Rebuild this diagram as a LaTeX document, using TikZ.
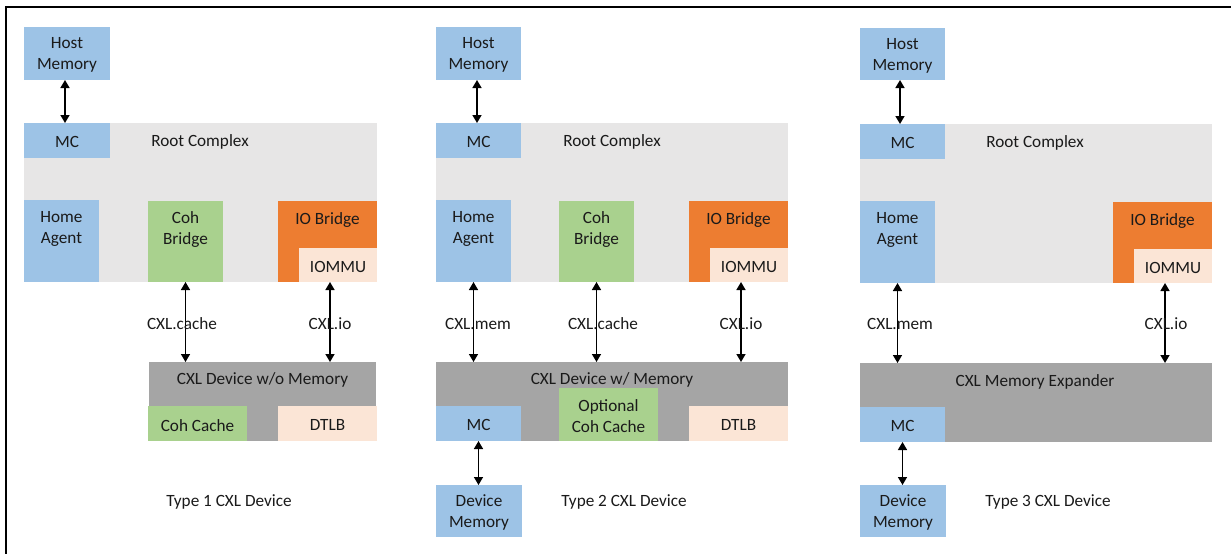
\documentclass[tikz,border=0pt]{standalone}
\usepackage{fontspec}
\setmainfont{Carlito}
\usetikzlibrary{arrows.meta,calc}
\definecolor{blueC}{HTML}{9DC3E6}
\definecolor{greenC}{HTML}{A9D18E}
\definecolor{orangeC}{HTML}{ED7D31}
\definecolor{peachC}{HTML}{FBE5D6}
\definecolor{lgrayC}{HTML}{E7E6E6}
\definecolor{dgrayC}{HTML}{A5A5A5}
\definecolor{txtC}{HTML}{1A1A1A}
\tikzset{
  blk/.style={anchor=north west, inner sep=0pt, outer sep=0pt, draw=none},
  txt/.style={inner sep=0pt, outer sep=0pt, align=center, yshift=-1.8pt,
              font=\fontsize{17.2}{21}\selectfont, text=txtC},
  link/.style={line width=1.5pt, {Triangle[width=9pt,length=8pt]}-{Triangle[width=9pt,length=8pt]}},
  frame/.style={line width=2.2pt}
}
\begin{document}
\begin{tikzpicture}[x=1pt,y=-1pt]
\useasboundingbox (0,0) rectangle (1231,554);
\draw[frame] (1231,7) -- (6,7) -- (6,554);

% ---------------- Panel 1 ----------------
\node[blk, fill=blueC, minimum width=86pt, minimum height=53pt] (hm1) at (24,27) {};
\node[txt] (hmt1) at (hm1) {Host\\Memory};
\node[blk, fill=lgrayC, minimum width=353pt, minimum height=159pt] (rc1) at (24,123) {};
\node[blk, fill=blueC, minimum width=86pt, minimum height=35pt] (mc1) at (24,123) {};
\node[txt] (mct1) at (mc1) {MC};
\node[txt] (rct1) at (200,140) {Root Complex};
\node[blk, fill=blueC, minimum width=75pt, minimum height=82pt] (ha1) at (24,200) {};
\node[txt] (hat1) at (61.5,227) {Home\\Agent};
\node[blk, fill=greenC, minimum width=75pt, minimum height=81pt] (cb1) at (148,201) {};
\node[txt] (cbt1) at (185.5,228) {Coh\\Bridge};
\node[blk, fill=orangeC, minimum width=99pt, minimum height=81pt] (iob1) at (278,201) {};
\node[txt] (iobt1) at (327.5,218) {IO Bridge};
\node[blk, fill=peachC, minimum width=78pt, minimum height=34pt] (iommu1) at (299,248) {};
\node[txt] (iommut1) at (iommu1) {IOMMU};
\node[blk, fill=dgrayC, minimum width=227pt, minimum height=79pt] (dev1) at (149,362) {};
\node[txt] (devt1) at (262.5,378) {CXL Device w/o Memory};
\node[blk, fill=greenC, minimum width=99pt, minimum height=35pt] (cc1) at (148,406) {};
\node[txt] (cct1) at (cc1) {Coh Cache};
\node[blk, fill=peachC, minimum width=99pt, minimum height=35pt] (dtlb1) at (278,406) {};
\node[txt] (dtlbt1) at (dtlb1) {DTLB};
\node[txt] (type1) at (229,500) {Type 1 CXL Device};
\draw[link] ([xshift=-2pt]hm1.south) -- ([xshift=-2pt]hm1.south |- mc1.north);
\draw[link] (cb1.south) -- (cb1.south |- dev1.north);
\draw[link] ([xshift=2.5pt]iob1.south) -- ([xshift=2.5pt]iob1.south |- dev1.north);
\node[txt] (l11) at (182,322) {CXL.cache};
\node[txt] (l12) at (330,322) {CXL.io};

% ---------------- Panel 2 ----------------
\node[blk, fill=blueC, minimum width=85pt, minimum height=53pt] (hm2) at (436,27) {};
\node[txt] (hmt2) at (hm2) {Host\\Memory};
\node[blk, fill=lgrayC, minimum width=352pt, minimum height=159pt] (rc2) at (436,123) {};
\node[blk, fill=blueC, minimum width=85pt, minimum height=35pt] (mc2) at (436,123) {};
\node[txt] (mct2) at (mc2) {MC};
\node[txt] (rct2) at (612,140) {Root Complex};
\node[blk, fill=blueC, minimum width=75pt, minimum height=82pt] (ha2) at (436,200) {};
\node[txt] (hat2) at (473.5,227) {Home\\Agent};
\node[blk, fill=greenC, minimum width=75pt, minimum height=81pt] (cb2) at (559,201) {};
\node[txt] (cbt2) at (596.5,228) {Coh\\Bridge};
\node[blk, fill=orangeC, minimum width=99pt, minimum height=81pt] (iob2) at (689,201) {};
\node[txt] (iobt2) at (738.5,218) {IO Bridge};
\node[blk, fill=peachC, minimum width=78pt, minimum height=34pt] (iommu2) at (710,248) {};
\node[txt] (iommut2) at (iommu2) {IOMMU};
\node[blk, fill=dgrayC, minimum width=352pt, minimum height=79pt] (dev2) at (436,362) {};
\node[txt] (devt2) at (612,378) {CXL Device w/ Memory};
\node[blk, fill=blueC, minimum width=85pt, minimum height=35pt] (mcd2) at (436,406) {};
\node[txt] (mcdt2) at (mcd2) {MC};
\node[blk, fill=greenC, minimum width=99pt, minimum height=53pt] (occ2) at (559,388) {};
\node[txt] (occt2) at (occ2) {Optional\\Coh Cache};
\node[blk, fill=peachC, minimum width=99pt, minimum height=35pt] (dtlb2) at (689,406) {};
\node[txt] (dtlbt2) at (dtlb2) {DTLB};
\node[blk, fill=blueC, minimum width=86pt, minimum height=52pt] (dm2) at (436,485) {};
\node[txt] (dmt2) at (dm2) {Device\\Memory};
\node[txt] (type2) at (624,500) {Type 2 CXL Device};
\draw[link] ([xshift=-1.5pt]hm2.south) -- ([xshift=-1.5pt]hm2.south |- mc2.north);
\draw[link] (ha2.south) -- (ha2.south |- dev2.north);
\draw[link] (cb2.south) -- (cb2.south |- dev2.north);
\draw[link] ([xshift=2.5pt]iob2.south) -- ([xshift=2.5pt]iob2.south |- dev2.north);
\draw[link] (mcd2.south) -- (mcd2.south |- dm2.north);
\node[txt] (l21) at (478,322) {CXL.mem};
\node[txt] (l22) at (603,322) {CXL.cache};
\node[txt] (l23) at (741,322) {CXL.io};

% ---------------- Panel 3 ----------------
\node[blk, fill=blueC, minimum width=85pt, minimum height=52pt] (hm3) at (860,28) {};
\node[txt] (hmt3) at (hm3) {Host\\Memory};
\node[blk, fill=lgrayC, minimum width=352pt, minimum height=159pt] (rc3) at (860,124) {};
\node[blk, fill=blueC, minimum width=85pt, minimum height=35pt] (mc3) at (860,124) {};
\node[txt] (mct3) at (mc3) {MC};
\node[txt] (rct3) at (1035,141) {Root Complex};
\node[blk, fill=blueC, minimum width=75pt, minimum height=82pt] (ha3) at (860,201) {};
\node[txt] (hat3) at (897.5,228) {Home\\Agent};
\node[blk, fill=orangeC, minimum width=99pt, minimum height=81pt] (iob3) at (1113,202) {};
\node[txt] (iobt3) at (1162.5,219) {IO Bridge};
\node[blk, fill=peachC, minimum width=78pt, minimum height=34pt] (iommu3) at (1134,249) {};
\node[txt] (iommut3) at (iommu3) {IOMMU};
\node[blk, fill=dgrayC, minimum width=352pt, minimum height=79pt] (dev3) at (860,363) {};
\node[txt] (devt3) at (1035,380) {CXL Memory Expander};
\node[blk, fill=blueC, minimum width=85pt, minimum height=35pt] (mcd3) at (860,407) {};
\node[txt] (mcdt3) at (mcd3) {MC};
\node[blk, fill=blueC, minimum width=86pt, minimum height=52pt] (dm3) at (860,485) {};
\node[txt] (dmt3) at (dm3) {Device\\Memory};
\node[txt] (type3) at (1048,500) {Type 3 CXL Device};
\draw[link] ([xshift=-2.5pt]hm3.south) -- ([xshift=-2.5pt]hm3.south |- mc3.north);
\draw[link] (ha3.south) -- (ha3.south |- dev3.north);
\draw[link] ([xshift=2.5pt]iob3.south) -- ([xshift=2.5pt]iob3.south |- dev3.north);
\draw[link] (mcd3.south) -- (mcd3.south |- dm3.north);
\node[txt] (l31) at (900,322) {CXL.mem};
\node[txt] (l32) at (1166,322) {CXL.io};
\end{tikzpicture}
\end{document}
